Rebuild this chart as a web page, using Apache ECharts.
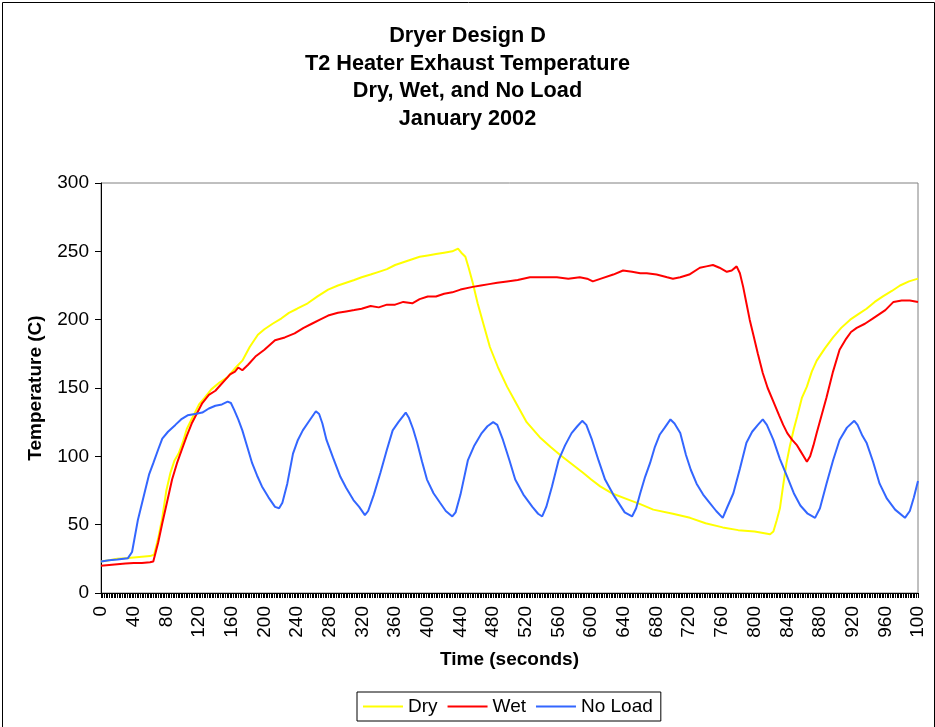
<!DOCTYPE html>
<html>
<head>
<meta charset="utf-8">
<script src="https://cdn.jsdelivr.net/npm/echarts@6/dist/echarts.min.js"></script>
<style>
html,body{margin:0;padding:0;background:#fff;}
#chart{width:935px;height:727px;}
</style>
</head>
<body>
<div id="chart"></div>
<script>
// ---- Data ----
const titleLines = ['Dryer Design D', 'T2 Heater Exhaust Temperature', 'Dry, Wet, and No Load', 'January 2002'];
const seriesNames = ['Dry', 'Wet', 'No Load'];
const xTickLabels = ['0','40','80','120','160','200','240','280','320','360','400','440','480','520','560','600','640','680','720','760','800','840','880','920','960','100'];
const yTickLabels = ['0','50','100','150','200','250','300'];

const dryT = [0,10,20,30,40,50,60,65,70,75,80,85,90,95,100,105,110,115,120,127,135,145,155,165,173,182,192,200,210,221,230,240,253,265,278,290,300,310,319,330,340,350,360,370,380,390,400,410,420,430,437,441,446,450,455,461,468,476,486,497,508,521,537,550,562,575,590,600,611,625,647,660,676,700,721,740,761,780,800,819,823,827,831,835,839,843,848,852,858,864,870,876,886,896,906,917,927,937,947,957,968,978,989,1000];
const dryV = [23,24,25,25.5,26,26.5,27,28,40,55,75,88,97,102,110,120,126,132,138,143,149,154,158,165,170,180,189,193,197,201,205,208,212,217,222,225,227,229,231,233,235,237,240,242,244,246,247,248,249,250,252,249,246,238,227,212,197,180,165,151,139,125,114,107,101,95,88,83,78,73,68,65,61,58,55,51,48,46,45,43,45,53,62,79,95,107,120,129,143,151,162,170,179,187,194,200,204,208,213,217,221,225,228,230];

const wetT = [0,10,20,30,40,50,60,64,70,75,81,87,93,99,105,111,117,124,132,140,146,152,158,164,168,173,180,189,200,213,225,237,248,258,268,278,290,300,310,319,330,340,350,360,370,381,390,400,410,420,430,440,455,465,475,485,497,510,525,540,558,572,586,595,602,612,627,639,650,660,668,680,693,700,709,720,733,741,749,757,766,772,778,782,786,790,794,798,804,810,816,823,830,835,840,846,852,856,860,864,868,872,876,882,888,896,904,912,918,925,935,945,950,960,970,980,990,1000];
const wetV = [20,20.5,21,21.5,22,22,22.5,23,37,51,67,83,95,105,115,124,131,139,145,148,152,156,160,162,165,163,167,173,178,185,187,190,194,197,200,203,205,206,207,208,210,209,211,211,213,212,215,217,217,219,220,222,224,225,226,227,228,229,231,231,231,230,231,230,228,230,233,236,235,234,234,233,231,230,231,233,238,239,240,238,235,236,239,234,224,212,200,190,175,161,150,140,130,123,117,112,108,104,100,96,100,108,117,130,143,162,178,186,191,194,197,201,203,207,213,214,214,213];

const noLoadT = [0,10,20,33,38,45,54,59,64,70,75,82,91,98,106,115,124,132,140,148,155,159,163,168,173,179,185,191,197,205,213,218,222,228,235,241,247,255,263,267,271,276,284,293,300,309,316,323,327,334,342,350,357,364,373,377,382,387,393,399,407,415,422,430,434,440,449,457,466,473,480,485,492,500,507,517,528,535,540,545,552,560,568,576,583,589,594,601,609,617,627,641,650,655,660,666,672,678,684,690,697,702,709,716,722,729,737,745,753,761,766,774,782,790,797,804,810,815,823,831,840,848,856,865,874,880,888,896,904,913,922,926,932,937,945,953,962,972,984,990,995,1000];
const noLoadV = [23,24,24.5,25.5,30,53,75,87,95,105,113,118,123,127,130,131,132,135,137,138,140,139,134,127,119,107,95,86,78,70,63,62,66,80,102,112,119,126,133,131,124,112,99,85,77,68,63,57,60,72,88,105,119,125,132,128,120,110,96,83,73,66,60,56,59,72,97,108,117,122,125,123,112,97,83,72,63,58,56,63,78,97,108,117,122,126,123,112,97,83,72,59,56,62,73,85,95,107,116,121,127,124,117,101,90,80,72,66,60,55,62,73,91,110,118,123,127,123,112,98,85,73,64,58,55,62,80,97,112,121,126,123,115,110,96,80,69,61,55,60,70,82];

function pairs(t, v) { return t.map((x, i) => [x, v[i]]); }

const FONT = '"Liberation Sans", Arial, sans-serif';
const chart = echarts.init(document.getElementById('chart'), null, {renderer: 'canvas'});
chart.setOption({
  animation: false,
  backgroundColor: '#ffffff',
  title: {
    text: titleLines.join('\n'),
    left: 'center',
    top: 17,
    textStyle: {fontFamily: FONT, fontSize: 21.7, fontWeight: 'bold', color: '#000', lineHeight: 27.7}
  },
  graphic: [{
    type: 'rect', left: 0, top: 0, silent: true,
    shape: {x: 0.5, y: 0.5, width: 932, height: 725},
    style: {fill: 'none', stroke: '#000', lineWidth: 1}
  }],
  legend: {
    data: seriesNames,
    top: 692,
    left: 357,
    orient: 'horizontal',
    icon: 'rect',
    itemWidth: 40,
    itemHeight: 2,
    itemGap: 10,
    padding: [5, 8, 5, 6],
    borderColor: '#000',
    borderWidth: 1,
    textStyle: {fontFamily: FONT, fontSize: 19, color: '#000'}
  },
  grid: {
    left: 101, right: 17, top: 183, bottom: 134,
    show: true, borderColor: '#808080', borderWidth: 1, backgroundColor: '#fff'
  },
  xAxis: {
    type: 'value',
    min: 0, max: 1000, interval: 40,
    name: 'Time (seconds)',
    nameLocation: 'middle',
    nameGap: 57,
    nameTextStyle: {fontFamily: FONT, fontSize: 19, fontWeight: 'bold', color: '#000'},
    axisLine: {show: true, onZero: false, lineStyle: {color: '#000', width: 1}},
    axisTick: {show: true, length: 5, lineStyle: {color: '#000'}},
    minorTick: {show: true, splitNumber: 20, length: 5, lineStyle: {color: '#000', width: 1}},
    axisLabel: {
      rotate: 90, fontFamily: FONT, fontSize: 19, color: '#000', margin: 13,
      formatter: function (v) { const i = Math.round(v / 40); return xTickLabels[i] !== undefined ? xTickLabels[i] : ''; }
    },
    splitLine: {show: false},
    minorSplitLine: {show: false}
  },
  yAxis: {
    type: 'value',
    min: 0, max: 300, interval: 50,
    name: 'Temperature (C)',
    nameLocation: 'middle',
    nameGap: 56,
    nameTextStyle: {fontFamily: FONT, fontSize: 19, fontWeight: 'bold', color: '#000'},
    axisLine: {show: true, lineStyle: {color: '#000', width: 1}},
    axisTick: {show: true, length: 6, lineStyle: {color: '#000'}},
    axisLabel: {
      fontFamily: FONT, fontSize: 19, color: '#000', margin: 12,
      formatter: function (v) { const i = Math.round(v / 50); return yTickLabels[i]; }
    },
    splitLine: {show: false}
  },
  series: [
    {name: seriesNames[0], type: 'line', data: pairs(dryT, dryV), showSymbol: false, color: '#FFFF00', lineStyle: {width: 2, color: '#FFFF00'}},
    {name: seriesNames[1], type: 'line', data: pairs(wetT, wetV), showSymbol: false, color: '#FF0000', lineStyle: {width: 2, color: '#FF0000'}},
    {name: seriesNames[2], type: 'line', data: pairs(noLoadT, noLoadV), showSymbol: false, color: '#3366FF', lineStyle: {width: 2, color: '#3366FF'}}
  ]
});
</script>
</body>
</html>
